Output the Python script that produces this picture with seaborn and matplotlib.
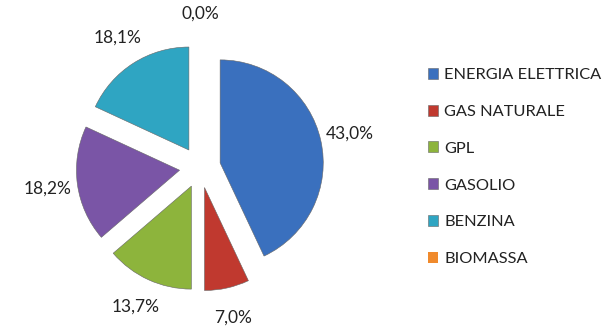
import matplotlib
matplotlib.use("Agg")
import matplotlib.pyplot as plt
import seaborn as sns

categories = ["ENERGIA ELETTRICA", "GAS NATURALE", "GPL", "GASOLIO", "BENZINA", "BIOMASSA"]
values = [43.0, 7.0, 13.7, 18.2, 18.1, 0.0]
colors = ["#3A70BE", "#C0392F", "#8DB43C", "#7A55A6", "#2FA5C2", "#F08A2C"]

sns.set_theme(style="white")
plt.rcParams["font.family"] = ["Lato", "DejaVu Sans"]

fig = plt.figure(figsize=(6.07, 3.26), dpi=100)
ax = fig.add_axes([35 / 607, 0, 330 / 607, 1])

wedges, texts, autotexts = ax.pie(
    values,
    colors=colors,
    startangle=90,
    counterclock=False,
    explode=[0.2] * len(values),
    radius=1.0,
    autopct=lambda p: f"{p:.1f}%".replace(".", ","),
    pctdistance=1.29,
    wedgeprops=dict(edgecolor="#666666", linewidth=0.4),
    textprops=dict(fontsize=12.5, color="#222222"),
)
for w, v in zip(wedges, values):
    if v == 0:
        w.set_linewidth(0)
ax.set_aspect("auto")
ax.set_xlim(-1.6, 1.6)
ax.set_ylim(-1.54, 1.625)

leg = fig.legend(
    wedges, categories,
    loc="center left",
    bbox_to_anchor=(413 / 607, 1 - 167 / 326),
    frameon=False,
    fontsize=11.8,
    handlelength=0.65,
    handleheight=0.65,
    handletextpad=0.35,
    labelspacing=1.38,
)
for t in leg.get_texts():
    t.set_color("#222222")

fig.savefig("out.png", dpi=100)
